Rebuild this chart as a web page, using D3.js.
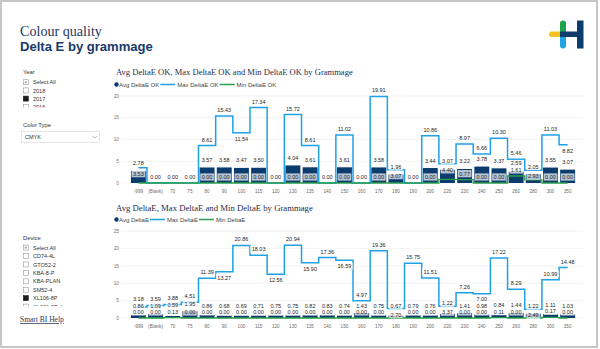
<!DOCTYPE html>
<html><head><meta charset="utf-8">
<script src="https://cdn.jsdelivr.net/npm/d3@7"></script>
<style>html,body{margin:0;padding:0;background:#fff;} svg{display:block;}</style>
</head><body>
<svg id="c" width="600" height="349"></svg>
<script>
const categories = ["-999","(Blank)","70","75","80","90","100","115","120","130","135","140","150","160","170","180","190","200","220","230","240","250","260","280","300","350"];
const okAvg = [2.78,0,0,0,3.57,3.58,3.47,3.50,0,4.04,3.61,0,3.61,0,3.58,1.96,0,3.44,3.07,3.22,3.78,3.37,2.59,2.05,3.55,3.07];
const okMax = [3.53,0,0,0,8.61,15.43,11.54,17.34,0,15.72,8.61,0,11.02,0,19.91,3.07,0,10.86,4.40,8.97,6.66,10.30,5.46,2.93,11.03,8.82];
const okMin = [0,0,0,0,0,0,0,0,0,0,0,0,0,0,0,0,0,0,0.85,0.77,0,0,1.61,0.70,0,0];
const allAvg = [0.86,1.09,0.59,1.95,0.86,0.68,0.69,0.71,0.75,0.75,0.82,0.83,0.74,1.43,0.75,0.67,0.79,0.76,1.22,1.41,0.98,0.84,1.44,1.22,1.11,1.03];
const allMax = [3.18,3.59,3.88,4.51,11.39,13.27,20.86,18.03,12.56,20.94,15.90,17.36,16.59,4.97,19.36,2.70,15.75,11.51,3.37,7.26,7.00,17.22,8.29,2.49,10.99,14.48];
const allMin = [0,0,0.13,0,0,0,0,0,0,0,0,0,0,0,0,0,0,0,0,0,0,0.11,0,0,0.17,0];
const okTicks = [0,5,10,15,20];
const allTicks = [0,5,10,15,20,25];
const years = ["Select All","2018","2017","2016"];
const devices = ["Select All","CD74-4L","GTO52-2","KBA-8-P","KBA-PLAN","SM52-4","XL106-8P","XL106-8P+L"];

const NAVY = "#0c3b6e", BLUE = "#1fa1e6", GREEN = "#2a9d4e";
const SANS = "'Liberation Sans', Arial, sans-serif";
const SERIF = "'Liberation Serif', Georgia, serif";
const svg = d3.select("#c");

svg.append("rect").attr("x",1).attr("y",1).attr("width",596).attr("height",346)
  .attr("fill","#fff").attr("stroke","#c6c6c6").attr("stroke-width",2);

function fit(sel, w){
  const l = sel.node().getComputedTextLength();
  const fs = parseFloat(sel.style("font-size"));
  sel.style("font-size", (fs*w/l)+"px");
}

// Header
fit(svg.append("text").attr("x",20).attr("y",36).text("Colour quality")
  .style("font-family",SERIF).style("font-size","14px").attr("fill","#1d3661"), 82);
fit(svg.append("text").attr("x",20).attr("y",51).text("Delta E by grammage")
  .style("font-family",SANS).style("font-weight","bold").style("font-size","13px").attr("fill","#173a6b"), 133);

// Logo
const logo = svg.append("g");
logo.append("rect").attr("x",549).attr("y",31.5).attr("width",14).attr("height",5.5).attr("rx",2.7).attr("fill","#f5c31c");
logo.append("rect").attr("x",560).attr("y",20.5).attr("width",6).attr("height",14).attr("rx",3).attr("fill","#1fa34a");
logo.append("rect").attr("x",560).attr("y",34).attr("width",6).attr("height",14.5).attr("rx",3).attr("fill","#1fa3e3");
logo.append("rect").attr("x",560).attr("y",31.5).attr("width",19).attr("height",5.5).attr("fill",NAVY);
logo.append("rect").attr("x",577).attr("y",20.5).attr("width",6.5).attr("height",28).attr("fill",NAVY);

// Slicers
function slicer(title, titleY, items, checked, y0, dy, clipBottom, id){
  svg.append("text").attr("x",23).attr("y",titleY).text(title)
    .style("font-family",SANS).style("font-size","5.8px").attr("fill","#333");
  svg.append("clipPath").attr("id",id).append("rect").attr("x",15).attr("y",y0-6).attr("width",90).attr("height",clipBottom-(y0-6));
  const g = svg.append("g").attr("clip-path","url(#"+id+")");
  items.forEach((t,i)=>{
    const cy = y0 + i*dy;
    g.append("rect").attr("x",23.3).attr("y",cy-2.6).attr("width",5).attr("height",5)
      .attr("fill", i===checked ? "#1e1e1e" : "#fff").attr("stroke", i===checked ? "#1e1e1e" : "#999").attr("stroke-width",0.6);
    if(i===0) g.append("rect").attr("x",24.8).attr("y",cy-1.1).attr("width",2).attr("height",2).attr("fill","#aaa");
    g.append("text").attr("x",33).attr("y",cy+2).text(t)
      .style("font-family",SANS).style("font-size","5.5px").attr("fill","#333");
  });
}
slicer("Year",74,years,2,82.3,8.2,107.6,"clipY");
slicer("Device",240.3,devices,6,247.7,8.43,306,"clipD");
svg.append("text").attr("x",23).attr("y",127).text("Color Type")
  .style("font-family",SANS).style("font-size","5.8px").attr("fill","#333");
svg.append("rect").attr("x",21.5).attr("y",131.5).attr("width",78).attr("height",11).attr("fill","#fff").attr("stroke","#dcdcdc").attr("stroke-width",0.7);
svg.append("text").attr("x",25).attr("y",139.3).text("CMYK").style("font-family",SANS).style("font-size","5.5px").attr("fill","#333");
svg.append("path").attr("d","M92.5,135.8 L94.8,138.2 L97.1,135.8").attr("fill","none").attr("stroke","#888").attr("stroke-width",0.6);
svg.append("text").attr("x",20).attr("y",322).text("Smart BI Help")
  .style("font-family",SERIF).style("font-size","7.5px").style("text-decoration","underline").attr("fill","#1d3661");

// Charts
const x = d3.scaleBand().domain(categories).range([122.35,583.7]).paddingInner(0.13).paddingOuter(0.5);
const cx = c => x(c) + x.bandwidth()/2;

function drawChart(cfg){
  const {title, titleY, titleW, legY, legNames, avg, max, min, ticks, y0, y1, xLabY} = cfg;
  const y = d3.scaleLinear().domain([0, ticks[ticks.length-1]]).range([y0, y1]);
  const g = svg.append("g");
  fit(g.append("text").attr("x",116).attr("y",titleY).text(title)
    .style("font-family",SERIF).style("font-size","10px").attr("fill","#1f2d4a"), titleW);
  // legend
  let lx = 116.5;
  g.append("circle").attr("cx",lx).attr("cy",legY).attr("r",2.2).attr("fill",NAVY);
  lx = 119;
  legNames.forEach((n,i)=>{
    if(i>0){
      g.append("line").attr("x1",lx).attr("x2",lx+15).attr("y1",legY).attr("y2",legY)
        .attr("stroke", i===1?BLUE:GREEN).attr("stroke-width",1.5);
      lx += 17;
    }
    const t = g.append("text").attr("x",lx).attr("y",legY+2).text(n)
      .style("font-family",SANS).style("font-size","6px").attr("fill","#444");
    lx += t.node().getComputedTextLength() + 1;
  });
  // grid + y ticks
  ticks.forEach(t=>{
    g.append("line").attr("x1",121).attr("x2",583).attr("y1",y(t)).attr("y2",y(t))
      .attr("stroke","#e8e8e8").attr("stroke-width",0.6);
    g.append("text").attr("x",119).attr("y",y(t)+1.7).attr("text-anchor","end").text(t)
      .style("font-family",SANS).style("font-size","4.8px").attr("fill","#777");
  });
  // x labels
  categories.forEach(c=>{
    g.append("text").attr("x",cx(c)).attr("y",xLabY).attr("text-anchor","middle").text(c)
      .style("font-family",SANS).style("font-size","4.6px").attr("fill","#6a6a6a");
  });
  const data = categories.map((c,i)=>({c, avg:avg[i], max:max[i], min:min[i]}));
  // bars
  g.selectAll("rect.bar").data(data).enter().append("rect").attr("class","bar")
    .attr("x",d=>x(d.c)).attr("width",x.bandwidth())
    .attr("y",d=>y(d.avg)).attr("height",d=>y(0)-y(d.avg)).attr("fill",NAVY);
  // lines
  g.append("path").datum(data).attr("fill","none").attr("stroke",BLUE).attr("stroke-width",1.5)
    .attr("d", d3.line().curve(d3.curveStep).x(d=>cx(d.c)).y(d=>y(d.max)));
  g.append("path").datum(data).attr("fill","none").attr("stroke",GREEN).attr("stroke-width",1.3)
    .attr("d", d3.line().curve(d3.curveStep).x(d=>cx(d.c)).y(d=>y(d.min)));
  // labels
  const labels = [];
  let prevMaxLab = null;
  data.forEach((d,i)=>{
    const px = cx(d.c);
    if(d.max===d.avg && d.avg===d.min){
      const ly = y(d.max)-6;
      labels.push({x:px,y:ly,v:d.max}); prevMaxLab = ly; return;
    }
    const ly = y(d.max);
    let avgLab = y(d.avg) - 7.5;
    let maxLab;
    if(Math.abs(avgLab-(ly-6)) < 6.5){
      maxLab = ly+6; avgLab = Math.min(avgLab, ly-3);
    } else {
      let sA=0, sB=0;
      [i-1,i+1].forEach(j=>{
        if(j<0||j>=data.length) return;
        const ny = y(data[j].max);
        if(ny<ly) sA += Math.min(ly-ny,11); else sB += Math.min(ny-ly,11);
      });
      if(prevMaxLab!==null && Math.abs(prevMaxLab-(ly-6))<7) sA += 11;
      if(prevMaxLab!==null && Math.abs(prevMaxLab-(ly+6))<7) sB += 11;
      if(Math.abs(avgLab-(ly+6))<6.5) sB += 100;
      maxLab = sB < sA ? ly+6 : ly-6;
    }
    const col = [{x:px,y:avgLab,v:d.avg},{x:px,y:maxLab,v:d.max}];
    const minLab = y(d.min)-6;
    if(Math.abs(minLab-avgLab)>=3 && Math.abs(minLab-maxLab)>=5) col.push({x:px,y:minLab,v:d.min});
    // resolve overlaps in the column by pushing upward
    col.sort((a,b)=>b.y-a.y);
    for(let k=1;k<col.length;k++){
      if(col[k].y > col[k-1].y - 6.5) col[k].y = col[k-1].y - 6.5;
    }
    col.forEach(l=>labels.push(l));
    prevMaxLab = col.find(l=>l.v===d.max).y;
  });
  labels.forEach(l=>{
    const lg = g.append("g");
    const r = lg.append("rect").attr("fill","#fff").attr("fill-opacity",0.7);
    const t = lg.append("text").attr("x",l.x).attr("y",l.y+2).attr("text-anchor","middle")
      .text(d3.format(".2f")(l.v)).style("font-family",SANS).style("font-size","5.5px").attr("fill","#252525");
    const w = t.node().getComputedTextLength()+3;
    r.attr("x",l.x-w/2).attr("y",l.y-3.6).attr("width",w).attr("height",7.2);
  });
}

drawChart({title:"Avg DeltaE OK, Max DeltaE OK and Min DeltaE OK by Grammage", titleY:75, titleW:237,
  legY:84.5, legNames:["Avg DeltaE OK","Max DeltaE OK","Min DeltaE OK"],
  avg:okAvg, max:okMax, min:okMin, ticks:okTicks, y0:183, y1:96, xLabY:192.5});
drawChart({title:"Avg DeltaE, Max DeltaE and Min DeltaE by Grammage", titleY:210.5, titleW:197,
  legY:219.5, legNames:["Avg DeltaE","Max DeltaE","Min DeltaE"],
  avg:allAvg, max:allMax, min:allMin, ticks:allTicks, y0:318, y1:231, xLabY:328});
</script>
</body></html>
